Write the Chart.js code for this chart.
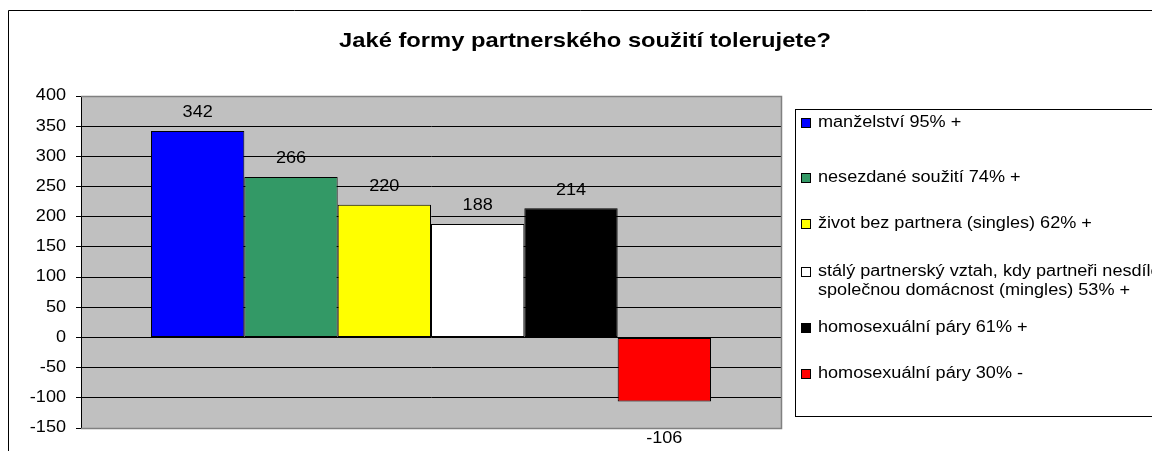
<!DOCTYPE html>
<html>
<head>
<meta charset="utf-8">
<script src="https://cdn.jsdelivr.net/npm/chart.js@4/dist/chart.umd.min.js"></script>
<style>
  html, body { margin: 0; padding: 0; background: #fff; }
  #wrap { width: 1152px; height: 451px; }
</style>
</head>
<body>
<div id="wrap"><canvas id="myChart" width="1152" height="451"></canvas></div>
<script>
// chart data
const title = 'Jaké formy partnerského soužití tolerujete?';
const categories = [''];
const seriesNames = [
    'manželství 95% +',
    'nesezdané soužití 74% +',
    'život bez partnera (singles) 62% +',
    ['stálý partnerský vztah, kdy partneři nesdílejí', 'společnou domácnost (mingles) 53% +'],
    'homosexuální páry 61% +',
    'homosexuální páry 30% -'
];
const seriesValues = [342, 266, 220, 188, 214, -106];
const seriesColors = ['#0000FF', '#339966', '#FFFF00', '#FFFFFF', '#000000', '#FF0000'];
const yTicks = [-150, -100, -50, 0, 50, 100, 150, 200, 250, 300, 350, 400];

const FONT = '"Liberation Sans", Arial, sans-serif';
const STRETCH = 1.13; // the source text is a bit wider than plain Arial

// draw text a little wider than normal
function wideText(c, text, x, y, align) {
    c.save();
    c.translate(x, y);
    c.scale(STRETCH, 1);
    c.textAlign = align;
    c.fillText(text, 0, 0);
    c.restore();
}

const datasets = seriesValues.map(function(v, i) {
    return {
        label: Array.isArray(seriesNames[i]) ? seriesNames[i].join(' ') : seriesNames[i],
        data: [v],
        backgroundColor: seriesColors[i],
        borderColor: '#000000',
        borderWidth: 1,
        borderSkipped: false,
        categoryPercentage: 0.8,
        barPercentage: 1.0
    };
});

const decor = {
    id: 'decor',
    beforeDraw: function(chart) {
        const c = chart.ctx;
        const a = chart.chartArea;
        c.save();
        c.fillStyle = '#ffffff';
        c.fillRect(0, 0, chart.width, chart.height);
        // outer frame
        c.strokeStyle = '#000000';
        c.lineWidth = 1;
        c.beginPath();
        c.moveTo(8.5, chart.height);
        c.lineTo(8.5, 10.5);
        c.lineTo(chart.width, 10.5);
        c.stroke();
        // title
        c.fillStyle = '#000000';
        c.font = 'bold 21px ' + FONT;
        c.textBaseline = 'alphabetic';
        wideText(c, title, 585, 47, 'center');
        // plot area
        c.fillStyle = '#C0C0C0';
        c.fillRect(a.left, a.top, a.right - a.left, a.bottom - a.top);
        c.restore();
    },
    afterDraw: function(chart) {
        const c = chart.ctx;
        const a = chart.chartArea;
        const yScale = chart.scales.y;
        c.save();
        // plot border
        c.strokeStyle = '#808080';
        c.lineWidth = 1.5;
        c.beginPath();
        c.moveTo(a.left, a.top + 0.5);
        c.lineTo(a.right + 0.5, a.top + 0.5);
        c.lineTo(a.right + 0.5, a.bottom + 0.5);
        c.lineTo(a.left, a.bottom + 0.5);
        c.stroke();

        // y tick labels
        c.fillStyle = '#000000';
        c.font = '16px ' + FONT;
        c.textBaseline = 'middle';
        yTicks.forEach(function(v) {
            wideText(c, String(v), 66, yScale.getPixelForValue(v), 'right');
        });

        // value labels
        c.font = '16px ' + FONT;
        chart.data.datasets.forEach(function(ds, i) {
            const bar = chart.getDatasetMeta(i).data[0];
            const v = ds.data[0];
            if (v >= 0) {
                wideText(c, String(v), bar.x, bar.y - 18, 'center');
            } else {
                wideText(c, String(v), bar.x, bar.y + 37, 'center');
            }
        });

        // legend
        c.strokeStyle = '#000000';
        c.lineWidth = 1;
        c.strokeRect(795.5, 109.5, 420, 307);
        const rows = [123, 178, 224, 272, 328, 374];
        c.font = '16px ' + FONT;
        seriesNames.forEach(function(name, i) {
            const y = rows[i];
            c.fillStyle = seriesColors[i];
            c.fillRect(801.5, y - 4.5, 9, 9);
            c.strokeRect(801.5, y - 4.5, 9, 9);
            c.fillStyle = '#000000';
            const lines = Array.isArray(name) ? name : [name];
            lines.forEach(function(t, k) {
                wideText(c, t, 818, y + k * 19, 'left');
            });
        });
        c.restore();
    }
};

const ctx = document.getElementById('myChart').getContext('2d');
new Chart(ctx, {
    type: 'bar',
    data: {
        labels: categories,
        datasets: datasets
    },
    options: {
        responsive: false,
        animation: false,
        layout: {
            padding: { left: 0, top: 96, right: 371, bottom: 23 }
        },
        plugins: {
            legend: { display: false },
            title: { display: false },
            tooltip: { enabled: false }
        },
        scales: {
            x: {
                display: false
            },
            y: {
                min: yTicks[0],
                max: yTicks[yTicks.length - 1],
                afterBuildTicks: function(scale) {
                    scale.ticks = yTicks.map(function(v) { return { value: v }; });
                },
                afterFit: function(scale) {
                    scale.width = 81;
                },
                grid: {
                    color: '#000000',
                    lineWidth: 1,
                    drawTicks: true,
                    tickLength: 5
                },
                border: {
                    display: true,
                    color: '#000000',
                    width: 1
                },
                ticks: {
                    padding: 10,
                    color: 'rgba(0,0,0,0)',
                    font: { family: FONT, size: 16 }
                }
            }
        }
    },
    plugins: [decor]
});
</script>
</body>
</html>
